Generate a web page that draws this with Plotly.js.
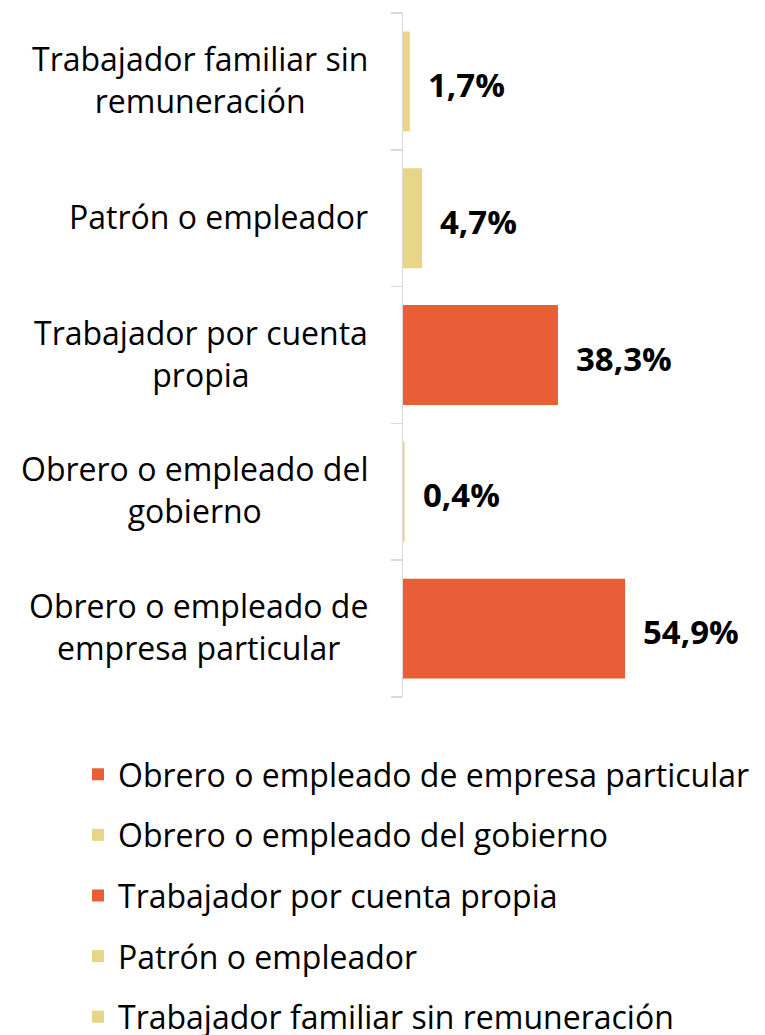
<!DOCTYPE html>
<html>
<head>
<meta charset="utf-8">
<script src="https://cdn.plot.ly/plotly-3.0.1.min.js"></script>
<style>html,body{margin:0;padding:0;background:#fff;}#chart{width:765px;height:1035px;}</style>
</head>
<body>
<div id="chart"></div>
<script>
// Categories, bottom to top (also legend order)
const categories = [
  "Obrero o empleado de empresa particular",
  "Obrero o empleado del gobierno",
  "Trabajador por cuenta propia",
  "Patrón o empleador",
  "Trabajador familiar sin remuneración"
];
const axisLabels = [
  "Obrero o empleado de<br>empresa particular",
  "Obrero o empleado del<br>gobierno",
  "Trabajador por cuenta<br>propia",
  "Patrón o empleador",
  "Trabajador familiar sin<br>remuneración"
];
const values = [54.9, 0.4, 38.3, 4.7, 1.7];
const valueLabels = ["54,9%", "0,4%", "38,3%", "4,7%", "1,7%"];
const colors = ["#E95E37", "#E7D686", "#E95E37", "#E7D686", "#E7D686"];

const FONT = "Open Sans, sans-serif";

const traces = categories.map((c, i) => ({
  type: "bar",
  orientation: "h",
  name: c,
  y: [c],
  x: [values[i]],
  marker: { color: colors[i] },
  width: 0.73,
  legendgroup: "g" + i,
  hoverinfo: "skip"
}));

const annotations = [];
categories.forEach((c, i) => {
  annotations.push({
    xref: "paper", yref: "y", x: 0, y: c,
    xanchor: "right", yanchor: "middle", align: "center",
    xshift: -33, yshift: 2,
    text: axisLabels[i], showarrow: false,
    font: { family: FONT, size: 32, color: "#000" }
  });
  annotations.push({
    xref: "x", yref: "y", x: values[i], y: c,
    xanchor: "left", yanchor: "middle",
    xshift: 16, yshift: -3,
    text: "<b>" + valueLabels[i] + "</b>", showarrow: false,
    font: { family: FONT, size: 33, color: "#000" }
  });
});

const layout = {
  width: 765, height: 1035,
  margin: { l: 403, r: 10, t: 13, b: 338, autoexpand: false },
  paper_bgcolor: "#fff", plot_bgcolor: "#fff",
  barmode: "overlay",
  showlegend: true,
  xaxis: { range: [0, 87], visible: false, fixedrange: true },
  yaxis: {
    type: "category", categoryorder: "array", categoryarray: categories,
    range: [-0.5, 4.5],
    showline: true, linecolor: "#D9D9D9", linewidth: 1.5,
    ticks: "outside", tickson: "boundaries", ticklen: 11, tickcolor: "#D9D9D9", tickwidth: 1.5,
    showticklabels: false, showgrid: false, zeroline: false, fixedrange: true
  },
  legend: {
    x: (78 - 403) / 352, y: (697 - 747) / 684, xanchor: "left", yanchor: "top",
    traceorder: "grouped", tracegroupgap: 16,
    font: { family: FONT, size: 32, color: "#000" },
    bgcolor: "rgba(0,0,0,0)"
  },
  annotations: annotations
};

Plotly.newPlot("chart", traces, layout, { displayModeBar: false, staticPlot: true });
</script>
</body>
</html>
